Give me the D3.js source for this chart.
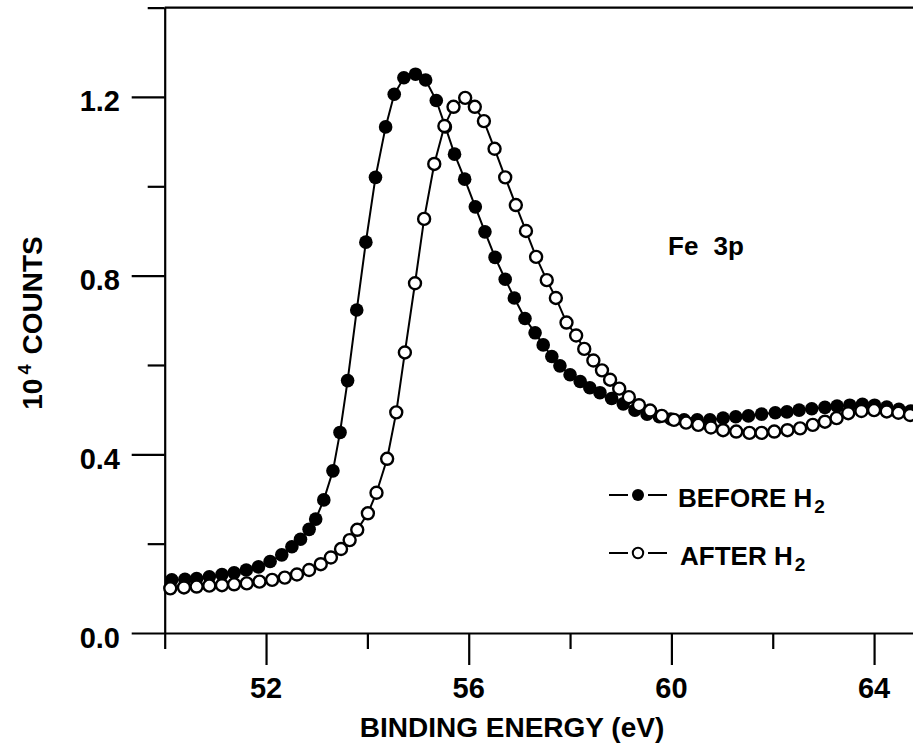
<!DOCTYPE html>
<html>
<head>
<meta charset="utf-8">
<script src="https://cdn.jsdelivr.net/npm/d3@7/dist/d3.min.js"></script>
<style>
  html, body { margin: 0; padding: 0; background: #fff; }
  svg { display: block; }
  text { font-family: "Liberation Sans", Arial, sans-serif; font-weight: bold; fill: #000; }
</style>
</head>
<body>
<svg id="chart" width="913" height="746"></svg>
<script>
// ---- data ----
const energyBefore = [50.14,50.40,50.63,50.88,51.13,51.37,51.61,51.85,52.08,52.31,52.51,52.68,52.85,52.98,53.14,53.32,53.46,53.61,53.79,53.97,54.16,54.36,54.53,54.72,54.95,55.15,55.36,55.54,55.72,55.92,56.13,56.32,56.52,56.72,56.90,57.11,57.31,57.47,57.64,57.80,58.00,58.20,58.39,58.59,58.82,59.05,59.28,59.52,59.76,59.99,60.25,60.51,60.76,61.02,61.27,61.52,61.78,62.05,62.28,62.52,62.77,63.03,63.27,63.52,63.77,64.01,64.25,64.49,64.72];
const countsBefore = [0.119,0.120,0.122,0.126,0.131,0.135,0.141,0.148,0.160,0.175,0.193,0.210,0.232,0.255,0.298,0.363,0.449,0.565,0.723,0.875,1.020,1.133,1.206,1.243,1.251,1.238,1.192,1.133,1.072,1.016,0.954,0.898,0.841,0.792,0.750,0.704,0.672,0.645,0.619,0.598,0.578,0.563,0.549,0.538,0.525,0.513,0.499,0.490,0.484,0.479,0.477,0.477,0.477,0.481,0.484,0.486,0.490,0.493,0.495,0.499,0.502,0.505,0.508,0.510,0.512,0.510,0.506,0.501,0.497];
const energyAfter = [50.11,50.38,50.63,50.88,51.13,51.37,51.62,51.87,52.12,52.37,52.61,52.85,53.08,53.28,53.48,53.65,53.80,54.01,54.18,54.39,54.57,54.74,54.94,55.12,55.32,55.52,55.70,55.93,56.12,56.30,56.51,56.72,56.93,57.13,57.33,57.54,57.72,57.93,58.12,58.28,58.46,58.63,58.79,58.97,59.16,59.36,59.58,59.81,60.05,60.29,60.53,60.78,61.02,61.28,61.54,61.78,62.03,62.29,62.54,62.79,63.03,63.26,63.49,63.75,64.00,64.25,64.48,64.71];
const countsAfter = [0.100,0.102,0.104,0.106,0.107,0.109,0.111,0.115,0.119,0.124,0.131,0.141,0.154,0.169,0.188,0.208,0.231,0.268,0.314,0.390,0.494,0.628,0.783,0.927,1.050,1.135,1.178,1.198,1.178,1.146,1.084,1.020,0.958,0.900,0.842,0.790,0.750,0.695,0.666,0.636,0.610,0.588,0.567,0.547,0.528,0.510,0.498,0.486,0.477,0.471,0.466,0.460,0.454,0.451,0.448,0.448,0.451,0.454,0.458,0.466,0.473,0.481,0.492,0.497,0.499,0.496,0.493,0.488];

const xMajorTicks = [52, 56, 60, 64];
const xMinorTicks = [50, 54, 58, 62];
const yMajorTicks = [0.0, 0.4, 0.8, 1.2];
const yMinorTicks = [0.2, 0.6, 1.0, 1.4];
const xTitle = "BINDING ENERGY (eV)";
const annotation = "Fe 3p";
const seriesNames = ["BEFORE H", "AFTER H"];

// ---- layout ----
const svg = d3.select("#chart");
const x0 = 164.7, pxPerEv = 50.67;
const x = d3.scaleLinear().domain([50, 65]).range([x0, x0 + 15 * pxPerEv]);
const y = d3.scaleLinear().domain([0, 1.4]).range([633, 633 - 1.4 * 446.7]);

const ax = svg.append("g");

// x axes
const gxMaj = ax.append("g").attr("transform", `translate(0,${y(0)})`)
  .call(d3.axisBottom(x).tickValues(xMajorTicks).tickSize(32).tickSizeOuter(0).tickFormat(""));
const gxMin = ax.append("g").attr("transform", `translate(0,${y(0)})`)
  .call(d3.axisBottom(x).tickValues(xMinorTicks).tickSize(16).tickSizeOuter(0).tickFormat(""));
// y axes
const gyMaj = ax.append("g").attr("transform", `translate(${x(50)},0)`)
  .call(d3.axisLeft(y).tickValues(yMajorTicks).tickSize(33).tickSizeOuter(0).tickFormat(""));
const gyMin = ax.append("g").attr("transform", `translate(${x(50)},0)`)
  .call(d3.axisLeft(y).tickValues(yMinorTicks).tickSize(17).tickSizeOuter(0).tickFormat(""));

ax.selectAll("path.domain").attr("stroke", "#000").attr("stroke-width", 2.2);
ax.selectAll(".tick line").attr("stroke", "#000").attr("stroke-width", 2.2);
gxMin.select("path.domain").remove();
gyMin.select("path.domain").remove();

// top frame line
ax.append("line").attr("x1", x(50)).attr("x2", 913).attr("y1", y(1.4)).attr("y2", y(1.4))
  .attr("stroke", "#000").attr("stroke-width", 2.2);

// tick labels
svg.append("g").selectAll("text").data(xMajorTicks).join("text")
  .attr("x", d => x(d)).attr("y", 698).attr("text-anchor", "middle")
  .style("font-size", "29px").text(d => d);
svg.append("g").selectAll("text").data(yMajorTicks).join("text")
  .attr("x", 120).attr("y", d => y(d) + 14.5).attr("text-anchor", "end")
  .style("font-size", "29px").text(d => d.toFixed(1));

// axis titles
svg.append("text").attr("x", 512).attr("y", 737).attr("text-anchor", "middle")
  .style("font-size", "28px").text(xTitle);
const yt = svg.append("text").attr("transform", "translate(42,323) rotate(-90)")
  .attr("text-anchor", "middle").style("font-size", "28px");
yt.append("tspan").text("10");
yt.append("tspan").attr("dy", -11).attr("dx", 4).style("font-size", "18px").text("4");
yt.append("tspan").attr("dy", 11).attr("dx", 10).text("COUNTS");

// annotation
svg.append("text").attr("x", 668).attr("y", 255).style("font-size", "26px")
  .style("word-spacing", "8px").text(annotation);

// series
const line = d3.line().x(d => x(d[0])).y(d => y(d[1]));
const before = energyBefore.map((e, i) => [e, countsBefore[i]]);
const after = energyAfter.map((e, i) => [e, countsAfter[i]]);

svg.append("path").datum(before).attr("d", line).attr("fill", "none").attr("stroke", "#000").attr("stroke-width", 2);
svg.append("g").selectAll("circle").data(before).join("circle")
  .attr("cx", d => x(d[0])).attr("cy", d => y(d[1])).attr("r", 6.8).attr("fill", "#000");

svg.append("path").datum(after).attr("d", line).attr("fill", "none").attr("stroke", "#000").attr("stroke-width", 2);
svg.append("g").selectAll("circle").data(after).join("circle")
  .attr("cx", d => x(d[0])).attr("cy", d => y(d[1])).attr("r", 6).attr("fill", "#fff")
  .attr("stroke", "#000").attr("stroke-width", 2.4);

// legend
const legendRows = [{name: seriesNames[0], filled: true, ly: 495, tx: 678, by: 507},
                    {name: seriesNames[1], filled: false, ly: 553, tx: 680, by: 565}];
const lg = svg.append("g");
legendRows.forEach(r => {
  lg.append("line").attr("x1", 609).attr("x2", 628).attr("y1", r.ly).attr("y2", r.ly).attr("stroke", "#000").attr("stroke-width", 2);
  lg.append("line").attr("x1", 648).attr("x2", 667).attr("y1", r.ly).attr("y2", r.ly).attr("stroke", "#000").attr("stroke-width", 2);
  lg.append("circle").attr("cx", 638).attr("cy", r.ly).attr("r", r.filled ? 6 : 5.2)
    .attr("fill", r.filled ? "#000" : "#fff").attr("stroke", "#000").attr("stroke-width", r.filled ? 0 : 2);
  const t = lg.append("text").attr("x", r.tx).attr("y", r.by).style("font-size", "26px");
  t.append("tspan").text(r.name);
  t.append("tspan").attr("dy", 6).attr("dx", 2).style("font-size", "19px").text("2");
});
</script>
</body>
</html>
